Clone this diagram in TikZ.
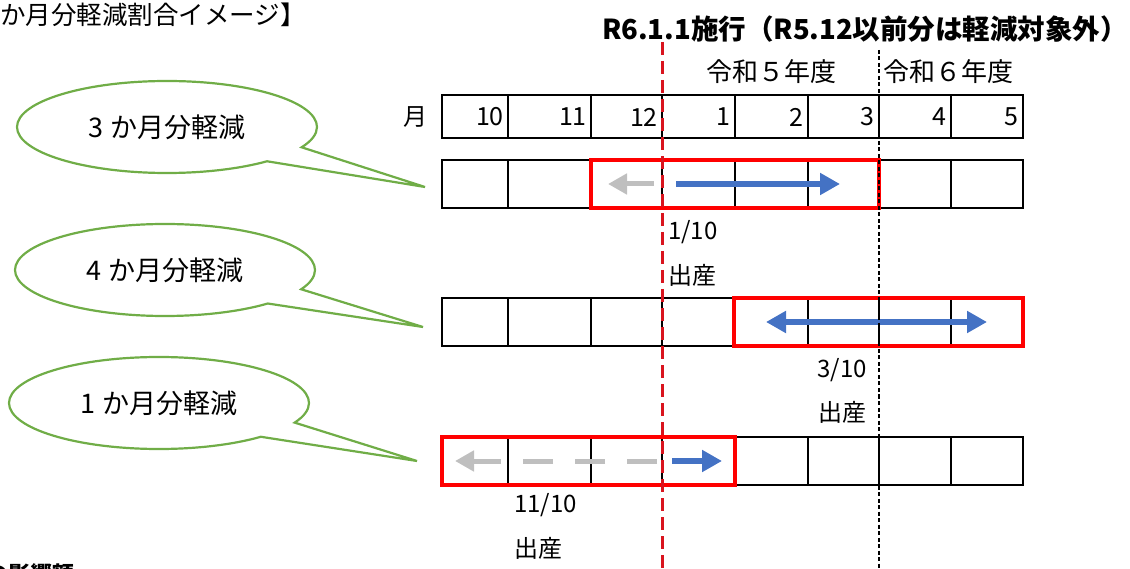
\documentclass[tikz,border=0pt]{standalone}
\usepackage{fontspec}
\setmainfont{Noto Sans CJK JP}
\usetikzlibrary{arrows.meta, shapes.callouts}
\definecolor{bubblegreen}{HTML}{70AD47}
\definecolor{arrowblue}{HTML}{4472C4}
\definecolor{arrowgray}{HTML}{BFBFBF}
\definecolor{startred}{HTML}{D9141E}

\begin{document}
\begin{tikzpicture}[x=1pt,y=-1pt]
\useasboundingbox (0,0) rectangle (1130,569);
\clip (0,0) rectangle (1130,569);
\tikzstyle{cell}=[draw, line width=1.3pt]
\tikzstyle{redbox}=[draw=red, line width=4pt]
\tikzstyle{txt}=[inner sep=0pt, font=\fontsize{24}{28}\selectfont]
\tikzstyle{bubble}=[ellipse callout, draw=bubblegreen, line width=2.2pt, fill=white,
                        minimum width=300pt, minimum height=92pt, inner sep=0pt,
                        callout pointer arc=22, font=\fontsize{27}{32}\selectfont]
\tikzstyle{bluearrow}=[draw=arrowblue, line width=6pt, -{Triangle[length=20pt,width=21pt]}]
\tikzstyle{grayarrow}=[draw=arrowgray, line width=5pt, -{Triangle[length=19pt,width=20pt]}]
\node[txt, anchor=west, font=\fontsize{25.5}{30}\selectfont](head) at (0,15){か月分軽減割合イメージ】};
\node[txt, anchor=west, font=\fontsize{22}{26}\selectfont\bfseries](foot) at (-14,574){の影響額};
\node[txt, font=\fontsize{27.5}{32}\selectfont\bfseries](title) at (865,29){R6.1.1施行（R5.12以前分は軽減対象外）};
\node[txt, font=\fontsize{26}{30}\selectfont](fy5) at (771,72){令和５年度};
\node[txt, font=\fontsize{26}{30}\selectfont](fy6) at (948,72){令和６年度};
\node[txt](mon) at (415,117){月};
% month table and three rows
\foreach \l/\r/\m in {442/508/10,508/591/11,591/662/12,662/735/1,735/808/2,808/879/3,879/951/4,951/1023/5}{
  \draw[cell] (\l,95) rectangle (\r,138);
  \node[txt, anchor=east, font=\fontsize{25}{30}\selectfont] at (\r-4,117) {\m};
  \foreach \t in {160,298,437} \draw[cell] (\l,\t) rectangle (\r,\t+48);
}
\draw[redbox] (591,160) rectangle (879,208);
\draw[redbox] (734,298) rectangle (1023,346);
\draw[redbox] (442,437) rectangle (735,485);
% arrows
\coordinate (g1s) at (654,184); \coordinate (g1e) at (608,184);
\coordinate (b1s) at (676,184); \coordinate (b1e) at (840,184);
\coordinate (b2s) at (766,322); \coordinate (b2e) at (987,322);
\coordinate (g3s) at (657,461); \coordinate (g3e) at (455,461);
\coordinate (b3s) at (672,461); \coordinate (b3e) at (722,461);
\draw[grayarrow] (g1s) -- (g1e);
\draw[bluearrow] (b1s) -- (b1e);
\draw[bluearrow, {Triangle[length=20pt,width=21pt]}-{Triangle[length=20pt,width=21pt]}] (b2s) -- (b2e);
\draw[grayarrow, dash pattern=on 30pt off 22pt] (g3s) -- (g3e);
\draw[bluearrow] (b3s) -- (b3e);
% dates
\node[txt, anchor=west](d1) at (668,232){1/10};
\node[txt, anchor=west](s1) at (668,275){出産};
\node[txt, anchor=east](d2) at (867,370){3/10};
\node[txt, anchor=east](s2) at (867,412){出産};
\node[txt, anchor=west](d3) at (514,505){11/10};
\node[txt, anchor=west](s3) at (514,548){出産};
% lines
\draw[startred, line width=3pt, dash pattern=on 13pt off 6pt] (662,42) -- (662,569);
\draw[black, line width=1.2pt, dash pattern=on 4pt off 2.5pt] (879,50) -- (879,569);
% callouts
\coordinate (p1) at (425,187);
\coordinate (p2) at (423,327);
\coordinate (p3) at (417,461);
\node[bubble, callout absolute pointer={(p1)}](c1) at (167,127){3 か月分軽減};
\node[bubble, callout absolute pointer={(p2)}](c2) at (165,270){4 か月分軽減};
\node[bubble, callout absolute pointer={(p3)}](c3) at (159,403){1 か月分軽減};
\end{tikzpicture}
\end{document}
